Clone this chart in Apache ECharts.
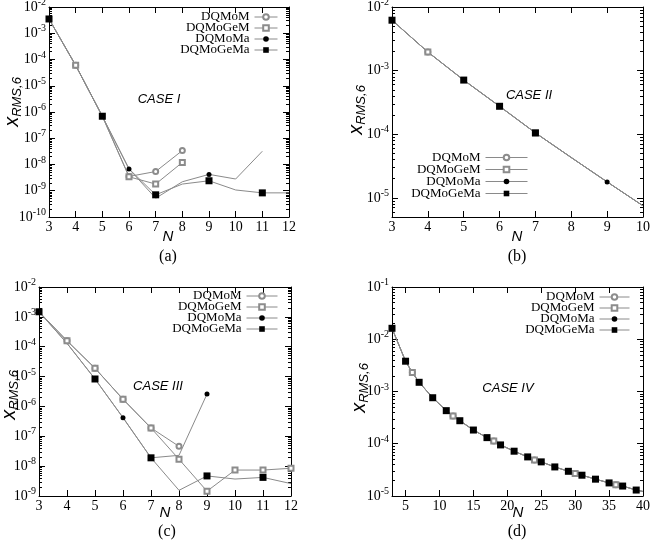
<!DOCTYPE html>
<html><head><meta charset="utf-8">
<script src="https://cdn.jsdelivr.net/npm/echarts@6/dist/echarts.min.js"></script>
<style>html,body{margin:0;padding:0;background:#fff}#c{width:657px;height:554px}</style>
</head><body><div id="c"></div>
<script>
const seriesNames = ['DQMoM', 'DQMoGeM', 'DQMoMa', 'DQMoGeMa'];

// ---- Panel (a) CASE I ----
const aN = [3, 4, 5, 6, 7, 8, 9, 10, 11, 12];
const aDQMoM    = [3.5e-3, 6.0e-5, 6.9e-7, 3.5e-9, 5.4e-9, 3.4e-8];
const aDQMoGeM  = [3.5e-3, 6.0e-5, 6.9e-7, 3.4e-9, 1.8e-9, 1.2e-8];
const aDQMoMa   = [3.5e-3, 6.0e-5, 6.9e-7, 6.8e-9, 5.2e-10, 2.2e-9, 4.2e-9, 2.8e-9, 3.2e-8];
const aDQMoGeMa = [3.5e-3, 6.0e-5, 6.9e-7, 6.8e-9, 7.0e-10, 1.8e-9, 2.4e-9, 1.07e-9, 8.3e-10, 8.3e-10];
const aMarkDQMoM = [4, 6, 7, 8];
const aMarkDQMoGeM = [4, 6, 7, 8];
const aMarkDQMoMa = [3, 6, 9];
const aMarkDQMoGeMa = [3, 5, 7, 9, 11];
const aXTicks = [3, 4, 5, 6, 7, 8, 9, 10, 11, 12];
const aYTicks = [1e-10, 1e-9, 1e-8, 1e-7, 1e-6, 1e-5, 1e-4, 1e-3, 1e-2];

// ---- Panel (b) CASE II ----
const bN = [3, 4, 5, 6, 7, 8, 9, 10];
const bValues = [6.2e-3, 1.96e-3, 7.1e-4, 2.75e-4, 1.05e-4, 4.3e-5, 1.78e-5, 7.5e-6];
const bMarkDQMoM = [4];
const bMarkDQMoGeM = [4, 7];
const bMarkDQMoMa = [9];
const bMarkDQMoGeMa = [3, 5, 6, 7];
const bXTicks = [3, 4, 5, 6, 7, 8, 9, 10];
const bYTicks = [1e-5, 1e-4, 1e-3, 1e-2];

// ---- Panel (c) CASE III ----
const cN = [3, 4, 5, 6, 7, 8, 9, 10, 11, 12];
const cDQMoM    = [1.48e-3, 1.58e-4, 1.9e-5, 1.74e-6, 1.9e-7, 4.6e-8];
const cDQMoGeM  = [1.48e-3, 1.58e-4, 1.9e-5, 1.74e-6, 1.9e-7, 1.7e-8, 1.45e-9, 7.4e-9, 7.4e-9, 8.5e-9];
const cDQMoMa   = [1.48e-3, 1.3e-4, 8.3e-6, 4.2e-7, 1.9e-8, 2.3e-8, 2.6e-6];
const cDQMoGeMa = [1.48e-3, 1.3e-4, 8.3e-6, 4.2e-7, 1.9e-8, 1.55e-9, 4.7e-9, 3.7e-9, 4.2e-9, 2.6e-9];
const cMarkDQMoM = [4, 5, 6, 7, 8];
const cMarkDQMoGeM = [4, 5, 6, 7, 8, 9, 10, 11, 12];
const cMarkDQMoMa = [3, 6, 9];
const cMarkDQMoGeMa = [3, 5, 7, 9, 11];
const cXTicks = [3, 4, 5, 6, 7, 8, 9, 10, 11, 12];
const cYTicks = [1e-9, 1e-8, 1e-7, 1e-6, 1e-5, 1e-4, 1e-3, 1e-2];

// ---- Panel (d) CASE IV ----
const dN = [3, 5, 6, 7, 9, 11, 12, 13, 15, 17, 18, 19, 21, 23, 24, 25, 27, 29, 30, 31, 33, 35, 36, 37, 39, 40];
const dValues = [1.62e-2, 3.8e-3, 2.3e-3, 1.5e-3, 7.6e-4, 4.3e-4, 3.4e-4, 2.76e-4, 1.83e-4, 1.31e-4, 1.13e-4, 9.5e-5,
                 7.2e-5, 5.6e-5, 4.9e-5, 4.5e-5, 3.6e-5, 2.97e-5, 2.7e-5, 2.5e-5, 2.1e-5, 1.78e-5, 1.65e-5, 1.55e-5, 1.30e-5, 1.22e-5];
const dMarkDQMoM = [6, 12, 18, 24, 30, 36];
const dMarkDQMoGeM = [6, 12, 18, 24, 30, 36];
const dMarkDQMoMa = [3];
const dMarkDQMoGeMa = [3, 5, 7, 9, 11, 13, 15, 17, 19, 21, 23, 25, 27, 29, 31, 33, 35, 37, 39];
const dXTicks = [5, 10, 15, 20, 25, 30, 35, 40];
const dYTicks = [1e-5, 1e-4, 1e-3, 1e-2, 1e-1];

const SERIF = 'Liberation Serif';
const SANS = 'Liberation Sans';

function minorTicks(lo, hi) {
  const out = [];
  for (let e = Math.floor(Math.log10(lo)) ; e < Math.ceil(Math.log10(hi)); e++) {
    for (let k = 2; k <= 9; k++) {
      const v = Number((k * Math.pow(10, e)).toPrecision(6));
      if (v > lo && v < hi) out.push(v);
    }
  }
  return out;
}

const panels = [
  { grid: {left: 49, top: 7, width: 240, height: 210},
    xMin: 3, xMax: 12, xTicks: aXTicks, yMin: 1e-10, yMax: 1e-2, yTicks: aYTicks,
    series: [[aN, aDQMoM, aMarkDQMoM], [aN, aDQMoGeM, aMarkDQMoGeM], [aN, aDQMoMa, aMarkDQMoMa], [aN, aDQMoGeMa, aMarkDQMoGeMa]] },
  { grid: {left: 392, top: 7, width: 251, height: 210},
    xMin: 3, xMax: 10, xTicks: bXTicks, yMin: 5e-6, yMax: 1e-2, yTicks: bYTicks,
    series: [[bN, bValues, bMarkDQMoM], [bN, bValues, bMarkDQMoGeM], [bN, bValues, bMarkDQMoMa], [bN, bValues, bMarkDQMoGeMa]] },
  { grid: {left: 39, top: 287, width: 252, height: 209},
    xMin: 3, xMax: 12, xTicks: cXTicks, yMin: 1e-9, yMax: 1e-2, yTicks: cYTicks,
    series: [[cN, cDQMoM, cMarkDQMoM], [cN, cDQMoGeM, cMarkDQMoGeM], [cN, cDQMoMa, cMarkDQMoMa], [cN, cDQMoGeMa, cMarkDQMoGeMa]] },
  { grid: {left: 392, top: 287, width: 251, height: 209},
    xMin: 3, xMax: 40, xTicks: dXTicks, yMin: 1e-5, yMax: 1e-1, yTicks: dYTicks,
    series: [[dN, dValues, dMarkDQMoM], [dN, dValues, dMarkDQMoGeM], [dN, dValues, dMarkDQMoMa], [dN, dValues, dMarkDQMoGeMa]] }
];

const seriesStyle = {
  DQMoM:    {symbol: 'emptyCircle', symbolSize: 5, itemStyle: {color: '#8c8c8c', borderWidth: 1}},
  DQMoGeM:  {symbol: 'emptyRect',   symbolSize: 5, itemStyle: {color: '#8c8c8c', borderWidth: 1}},
  DQMoMa:   {symbol: 'circle',      symbolSize: 5, itemStyle: {color: '#000'}},
  DQMoGeMa: {symbol: 'rect',        symbolSize: 7, itemStyle: {color: '#000'}}
};

function yLabelFmt(v) {
  const e = Math.log10(v);
  if (Math.abs(e - Math.round(e)) > 1e-6) return '';
  return '{b|10}{s|' + Math.round(e) + '}';
}
const yRich = {
  b: {fontFamily: SERIF, fontSize: 14, color: '#000'},
  s: {fontFamily: SERIF, fontSize: 10, color: '#000', padding: [0, 0, 9, 0]}
};

const option = {
  animation: false,
  backgroundColor: '#fff',
  grid: [], xAxis: [], yAxis: [], series: [],
  legend: [], graphic: []
};

panels.forEach((p, gi) => {
  option.grid.push(Object.assign({outerBoundsMode: 'none', containLabel: false}, p.grid));
  ['bottom', 'top'].forEach(pos => {
    option.xAxis.push({
      gridIndex: gi, type: 'value', position: pos, min: p.xMin, max: p.xMax,
      axisLine: {show: true, onZero: false, lineStyle: {color: '#000', width: 1}},
      axisTick: {show: true, inside: true, length: 6, customValues: p.xTicks, lineStyle: {color: '#000', width: 1}},
      axisLabel: {show: pos === 'bottom', customValues: p.xTicks, margin: 3, fontFamily: SERIF, fontSize: 14, color: '#000'},
      splitLine: {show: false}
    });
  });
  const minors = minorTicks(p.yMin, p.yMax);
  [['left', false], ['right', false], ['left', true], ['right', true]].forEach(([pos, minor]) => {
    option.yAxis.push({
      gridIndex: gi, type: 'log', logBase: 10, position: pos, min: p.yMin, max: p.yMax,
      axisLine: {show: !minor, onZero: false, lineStyle: {color: '#000', width: 1}},
      axisTick: {show: true, inside: true, length: minor ? 3 : 6, customValues: minor ? minors : p.yTicks, lineStyle: {color: '#000', width: 1}},
      axisLabel: {show: !minor && pos === 'left', customValues: p.yTicks, margin: 3, formatter: yLabelFmt, rich: yRich},
      splitLine: {show: false}, minorTick: {show: false}
    });
  });
  p.series.forEach(([xs, ys, marks], si) => {
    const name = seriesNames[si];
    const st = seriesStyle[name];
    option.series.push({
      name, type: 'line', xAxisIndex: gi * 2, yAxisIndex: gi * 4,
      symbol: st.symbol, symbolSize: st.symbolSize, itemStyle: st.itemStyle,
      lineStyle: {color: '#8a8a8a', width: 1},
      emphasis: {disabled: true},
      data: ys.map((y, i) => marks.indexOf(xs[i]) >= 0 ? [xs[i], y] : {value: [xs[i], y], symbol: 'none'})
    });
  });
});

const legendPos = [
  {right: 657 - 278, top: 10.5, itemGap: -2, itemWidth: 23},
  {right: 657 - 528, top: 151, itemGap: -1, itemWidth: 42},
  {right: 657 - 278, top: 289.5, itemGap: -2, itemWidth: 31},
  {right: 657 - 630, top: 290.5, itemGap: -2, itemWidth: 30}
];
legendPos.forEach(lp => {
  option.legend.push(Object.assign({
    data: seriesNames, orient: 'vertical', align: 'right', padding: 0,
    itemHeight: 7, selectedMode: false,
    lineStyle: {width: 1}, itemStyle: {borderWidth: 1},
    textStyle: {fontFamily: SERIF, fontSize: 13, color: '#000', lineHeight: 11}
  }, lp));
});

function txt(x, y, text, font) {
  return {type: 'text', x, y, style: {text, font, fill: '#000', align: 'center', verticalAlign: 'middle'}};
}
function ytitle(x, y) {
  return {type: 'text', x, y, rotation: Math.PI / 2,
    style: {text: '{x|x}{s|RMS,6}', align: 'center', verticalAlign: 'middle',
      rich: {
        x: {fontFamily: SANS, fontStyle: 'italic', fontSize: 20, fill: '#000'},
        s: {fontFamily: SANS, fontStyle: 'italic', fontSize: 13, fill: '#000', padding: [10, 0, 0, 0]}
      }}};
}
const caseFont = 'italic 13px "Liberation Sans"';
const nFont = 'italic 15px "Liberation Sans"';
const capFont = '16px "Liberation Serif"';
option.graphic = [
  txt(159, 99, 'CASE I', caseFont), txt(529, 95, 'CASE II', caseFont),
  txt(158, 386, 'CASE III', caseFont), txt(508, 388, 'CASE IV', caseFont),
  txt(168, 237, 'N', nFont), txt(517, 237, 'N', nFont),
  txt(165, 513, 'N', nFont), txt(518, 513, 'N', nFont),
  txt(168, 257, '(a)', capFont), txt(517, 257, '(b)', capFont),
  txt(167, 532, '(c)', capFont), txt(517, 532, '(d)', capFont),
  ytitle(12, 102), ytitle(356, 110), ytitle(9, 395), ytitle(359, 388)
];

const chart = echarts.init(document.getElementById('c'), null, {renderer: 'canvas'});
chart.setOption(option);
</script>
</body></html>
